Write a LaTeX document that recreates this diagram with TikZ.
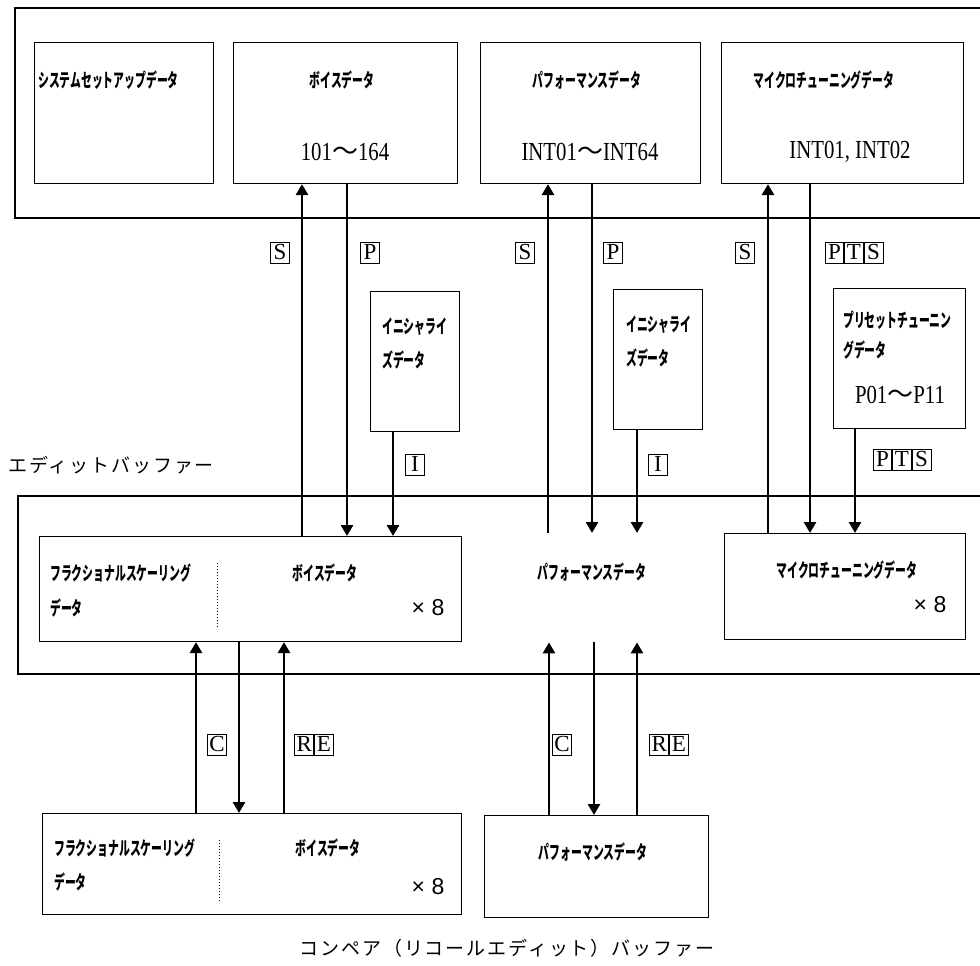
\documentclass[tikz,border=0pt]{standalone}
\usepackage{fontspec}
\setmainfont{Liberation Serif}
\newfontfamily\jp[FakeStretch=0.57]{Noto Sans CJK JP}
\newfontfamily\jpwide[LetterSpace=10]{Noto Sans CJK JP}
\newfontfamily\jpn{Noto Sans CJK JP}
\newfontfamily\numfont[FakeStretch=0.8]{Liberation Serif}
\newfontfamily\sansfont{Liberation Sans}
\usetikzlibrary{positioning,arrows.meta}

\newcommand{\kbox}[1]{{\setlength{\fboxsep}{1.5pt}\setlength{\fboxrule}{0.8pt}%
  \fbox{\rule[-2pt]{0pt}{17pt}\makebox[15pt]{#1}}}}
\newcommand{\wave}{{\jpn ～}}
\newcommand{\octo}{{\sansfont × 8}}

\begin{document}
\begin{tikzpicture}[x=1pt, y=-1pt,
  box/.style={draw, line width=1.1pt, anchor=north west, inner sep=0pt},
  txt/.style={inner sep=0pt, font=\jp\bfseries\fontsize{19}{22}\selectfont},
  num/.style={inner sep=0pt, font=\numfont\fontsize{26}{28}\selectfont},
  cnt/.style={inner sep=0pt, font=\fontsize{23}{26}\selectfont},
  tag/.style={inner sep=0pt, font=\fontsize{23}{25}\selectfont},
  bufname/.style={inner sep=0pt, font=\jpwide\fontsize{19}{22}\selectfont},
  frame/.style={line width=1.2pt},
  arr/.style={line width=2.8pt, -{Triangle[width=12pt,length=11pt]}}]
  \useasboundingbox (0,0) rectangle (980,966);

  % buffer frames
  \draw[frame] (980,8) -- (15,8) -- (15,218) -- (980,218);
  \draw[frame] (980,496) -- (18,496) -- (18,674) -- (980,674);

  % internal memory
  \node[box, minimum width=179, minimum height=141] (sys) at (34,42) {};
  \node[box, minimum width=224, minimum height=141] (voice) at (233,42) {};
  \node[box, minimum width=220, minimum height=141] (perf) at (480,42) {};
  \node[box, minimum width=242, minimum height=141] (micro) at (721,42) {};
  \node[txt, anchor=west] (sysT) at (38,80) {システムセットアップデータ};
  \node[txt] (voiceT) at (342,80) {ボイスデータ};
  \node[num] (voiceN) at (345,152) {101\wave 164};
  \node[txt] (perfT) at (587,80) {パフォーマンスデータ};
  \node[num] (perfN) at (590,152) {INT01\wave INT64};
  \node[txt] (microT) at (824,80) {マイクロチューニングデータ};
  \node[num] (microN) at (850,152) {INT01, INT02};

  % initialize / preset data
  \node[box, minimum width=89, minimum height=140] (init1) at (370,291) {};
  \node[box, minimum width=89, minimum height=140] (init2) at (613,289) {};
  \node[box, minimum width=132, minimum height=140] (preset) at (833,288) {};
  \node[txt, anchor=west] (init1a) at (382,327) {イニシャライ};
  \node[txt, anchor=west] (init1b) at (382,360) {ズデータ};
  \node[txt, anchor=west] (init2a) at (626,325) {イニシャライ};
  \node[txt, anchor=west] (init2b) at (626,358) {ズデータ};
  \node[txt, anchor=west] (preseta) at (843,320) {プリセットチューニン};
  \node[txt, anchor=west] (presetb) at (843,350) {グデータ};
  \node[num] (presetN) at (900,395) {P01\wave P11};

  % edit buffer
  \node[bufname, anchor=west] (editT) at (8,465) {エディットバッファー};
  \node[box, minimum width=422, minimum height=105] (evoice) at (39,536) {};
  \node[anchor=north west, inner sep=0pt, minimum width=200, minimum height=109] (eperf) at (492,533) {};
  \node[box, minimum width=241, minimum height=106] (emicro) at (724,533) {};
  \node[txt, anchor=west] (evoiceF) at (50,573) {フラクショナルスケーリング};
  \node[txt, anchor=west] (evoiceD) at (50,608) {データ};
  \node[txt] (evoiceT) at (325,573) {ボイスデータ};
  \node[cnt] (evoiceX) at (428,608) {\octo};
  \draw[dotted, line width=1pt] (217,563) -- (217,628);
  \node[txt] (eperfT) at (592,572) {パフォーマンスデータ};
  \node[txt] (emicroT) at (847,570) {マイクロチューニングデータ};
  \node[cnt] (emicroX) at (930,605) {\octo};

  % compare buffer
  \node[box, minimum width=419, minimum height=101] (cvoice) at (42,813) {};
  \node[box, minimum width=224, minimum height=102] (cperf) at (484,815) {};
  \node[txt, anchor=west] (cvoiceF) at (54,848) {フラクショナルスケーリング};
  \node[txt, anchor=west] (cvoiceD) at (54,882) {データ};
  \node[txt] (cvoiceT) at (328,848) {ボイスデータ};
  \node[cnt] (cvoiceX) at (428,887) {\octo};
  \draw[dotted, line width=1pt] (219,840) -- (219,903);
  \node[txt] (cperfT) at (593,852) {パフォーマンスデータ};
  \node[bufname] (compT) at (507,948) {コンペア（リコールエディット）バッファー};

  % store / recall
  \draw[arr] (evoice.north -| 302,0) -- (voice.south -| 302,0);
  \draw[arr] (voice.south -| 347,0) -- (evoice.north -| 347,0);
  \draw[arr] (init1.south -| 393,0) -- (evoice.north -| 393,0);
  \draw[arr] (eperf.north -| 548,0) -- (perf.south -| 548,0);
  \draw[arr] (perf.south -| 592,0) -- (eperf.north -| 592,0);
  \draw[arr] (init2.south -| 637,0) -- (eperf.north -| 637,0);
  \draw[arr] (emicro.north -| 768,0) -- (micro.south -| 768,0);
  \draw[arr] (micro.south -| 810,0) -- (emicro.north -| 810,0);
  \draw[arr] (preset.south -| 855,0) -- (emicro.north -| 855,0);
  % compare / recall edit
  \draw[arr] (cvoice.north -| 196,0) -- (evoice.south -| 196,0);
  \draw[arr] (evoice.south -| 239,0) -- (cvoice.north -| 239,0);
  \draw[arr] (cvoice.north -| 284,0) -- (evoice.south -| 284,0);
  \draw[arr] (cperf.north -| 549,0) -- (eperf.south -| 549,0);
  \draw[arr] (eperf.south -| 594,0) -- (cperf.north -| 594,0);
  \draw[arr] (cperf.north -| 637,0) -- (eperf.south -| 637,0);

  % key labels
  \node[tag] (s1) at (280,253) {\kbox{S}};
  \node[tag] (p1) at (370,253) {\kbox{P}};
  \node[tag] (s2) at (525,253) {\kbox{S}};
  \node[tag] (p2) at (613,253) {\kbox{P}};
  \node[tag] (s3) at (745,253) {\kbox{S}};
  \node[tag] (pts1) at (854,253) {\kbox{P}\kbox{T}\kbox{S}};
  \node[tag] (i1) at (415,465) {\kbox{I}};
  \node[tag] (i2) at (658,465) {\kbox{I}};
  \node[tag] (pts2) at (902,460) {\kbox{P}\kbox{T}\kbox{S}};
  \node[tag] (c1) at (217,745) {\kbox{C}};
  \node[tag] (re1) at (314,745) {\kbox{R}\kbox{E}};
  \node[tag] (c2) at (562,745) {\kbox{C}};
  \node[tag] (re2) at (669,745) {\kbox{R}\kbox{E}};
\end{tikzpicture}
\end{document}
